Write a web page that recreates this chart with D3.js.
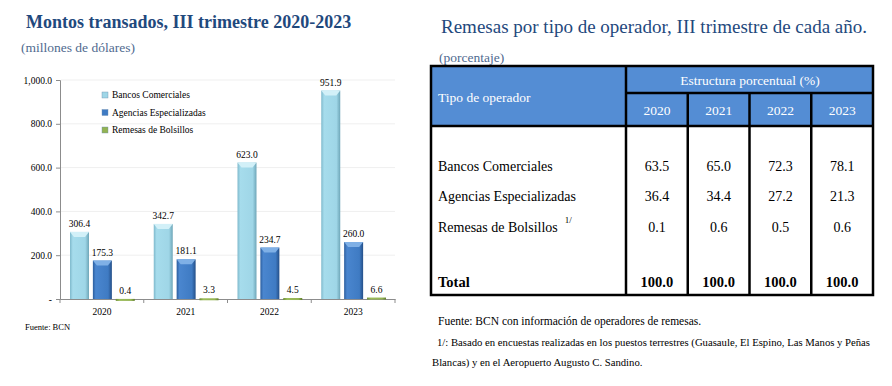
<!DOCTYPE html>
<html>
<head>
<meta charset="utf-8">
<script src="https://cdn.jsdelivr.net/npm/d3@7"></script>
<style>
  body { margin: 0; background: #fff; }
  svg text { font-family: "Liberation Serif", "DejaVu Serif", serif !important; }
</style>
</head>
<body>
<svg id="chart" width="892" height="386"></svg>
<script>
// Datos ---------------------------------------------------------------
const years = ["2020", "2021", "2022", "2023"];
const seriesNames = ["Bancos Comerciales", "Agencias Especializadas", "Remesas de Bolsillos"];
const bancos = [306.4, 342.7, 623.0, 951.9];
const agencias = [175.3, 181.1, 234.7, 260.0];
const bolsillos = [0.4, 3.3, 4.5, 6.6];
const yTicks = [0, 200, 400, 600, 800, 1000];

const tableRows = ["Bancos Comerciales", "Agencias Especializadas", "Remesas de Bolsillos"];
const pctBancos = [63.5, 65.0, 72.3, 78.1];
const pctAgencias = [36.4, 34.4, 27.2, 21.3];
const pctBolsillos = [0.1, 0.6, 0.5, 0.6];
const pctTotal = [100.0, 100.0, 100.0, 100.0];

const svg = d3.select("#chart");
const titleColor = "#1F497D";

// [A] Gráfico de barras -------------------------------------------------
svg.append("text").attr("x", 26).attr("y", 28)
  .attr("font-size", 18).attr("font-weight", "bold").attr("fill", titleColor)
  .text("Montos transados, III trimestre 2020-2023");
svg.append("text").attr("x", 21).attr("y", 52)
  .attr("font-size", 13.5).attr("fill", "#4F6A8F")
  .text("(millones de dólares)");

const x0 = d3.scaleBand().domain(years).range([60, 395]);
const x1 = d3.scaleBand().domain(seriesNames).range([10, x0.bandwidth() - 9]).paddingInner(0.17);
const y = d3.scaleLinear().domain([0, 1000]).range([299, 80]);

// gradientes
const defs = svg.append("defs");
function hGrad(id, stops) {
  const g = defs.append("linearGradient").attr("id", id).attr("x1", 0).attr("x2", 1).attr("y1", 0).attr("y2", 0);
  stops.forEach(([o, c]) => g.append("stop").attr("offset", o).attr("stop-color", c));
}
hGrad("gBanc", [[0, "#7FB9CC"], [0.15, "#A6DCEC"], [0.8, "#9FD6E7"], [1, "#6EA6B8"]]);
hGrad("gAgen", [[0, "#2C5E9E"], [0.15, "#4A86CF"], [0.8, "#3F7BC3"], [1, "#244F88"]]);
hGrad("gBols", [[0, "#6E8F36"], [0.2, "#9BBB59"], [0.8, "#93B352"], [1, "#5F7D2C"]]);
const fills = ["url(#gBanc)", "url(#gAgen)", "url(#gBols)"];
const topFills = ["#D2F0F8", "#7FB0E6", "#C5DB93"];

// grilla
svg.append("g").selectAll("line").data(yTicks.slice(1)).join("line")
  .attr("x1", 61).attr("x2", 395).attr("y1", d => y(d)).attr("y2", d => y(d))
  .attr("stroke", "#EFEFEF").attr("stroke-width", 1);

// ejes
const yAxis = svg.append("g").attr("transform", "translate(60,0)")
  .call(d3.axisLeft(y).tickValues(yTicks).tickSize(4).tickPadding(4)
    .tickFormat(d => d === 0 ? "-" : d3.format(",.1f")(d)));
yAxis.select(".domain").attr("stroke", "#8C8C8C");
yAxis.selectAll(".tick line").attr("stroke", "#8C8C8C");
yAxis.selectAll("text").attr("font-size", 9.5).attr("fill", "#000");

const xAxis = svg.append("g").attr("transform", "translate(0,299)")
  .call(d3.axisBottom(x0).tickSize(0).tickPadding(9));
xAxis.select(".domain").attr("stroke", "#8C8C8C");
xAxis.selectAll("text").attr("font-size", 9.5).attr("fill", "#000");
xAxis.selectAll(".sep").data(years.concat(["end"])).join("line").attr("class", "sep")
  .attr("x1", (d, i) => 60 + i * x0.step()).attr("x2", (d, i) => 60 + i * x0.step())
  .attr("y1", 0).attr("y2", 4).attr("stroke", "#8C8C8C");

// barras
const series = [bancos, agencias, bolsillos];
const barData = [];
years.forEach((yr, i) => series.forEach((s, k) => barData.push({ yr, k, v: s[i] })));

const bars = svg.append("g").selectAll("g").data(barData).join("g")
  .attr("transform", d => `translate(${x0(d.yr) + x1(seriesNames[d.k])},0)`);
bars.append("rect")
  .attr("x", 0).attr("width", x1.bandwidth())
  .attr("y", d => y(d.v)).attr("height", d => Math.max(y(0) - y(d.v), 2))
  .attr("fill", d => fills[d.k]);
bars.filter(d => y(0) - y(d.v) > 8).append("path")
  .attr("d", d => {
    const w = x1.bandwidth(), t = y(d.v);
    return `M0,${t}L${w},${t}L${w - 4},${t + 5}L4,${t + 5}Z`;
  })
  .attr("fill", d => topFills[d.k]);
bars.append("text")
  .attr("x", x1.bandwidth() / 2).attr("y", d => y(d.v) - 5)
  .attr("text-anchor", "middle").attr("font-size", 9.5).attr("fill", "#000")
  .text(d => d3.format(".1f")(d.v));

// leyenda
const legFill = ["#9FD6E7", "#3F7BC3", "#93B352"];
const leg = svg.append("g").selectAll("g").data(seriesNames).join("g")
  .attr("transform", (d, i) => `translate(102,${97 + i * 17.5})`);
leg.append("rect").attr("x", 0).attr("y", -5).attr("width", 6).attr("height", 6)
  .attr("fill", (d, i) => legFill[i]).attr("stroke", "#6F8FAF").attr("stroke-width", 0.4);
leg.append("text").attr("x", 10).attr("y", 1).attr("font-size", 9.5).attr("fill", "#000").text(d => d);

svg.append("text").attr("x", 25).attr("y", 330).attr("font-size", 8.5).attr("fill", "#000")
  .text("Fuente: BCN");

// [B] Tabla --------------------------------------------------------------
svg.append("text").attr("x", 441).attr("y", 33)
  .attr("font-size", 19).attr("fill", titleColor)
  .text("Remesas por tipo de operador, III trimestre de cada año.");
svg.append("text").attr("x", 439).attr("y", 62)
  .attr("font-size", 13.5).attr("fill", "#4F6A8F")
  .text("(porcentaje)");

const colX = d3.scaleBand().domain(years).range([626, 873]);
const tLeft = 431, tTop = 66, tMid = 93, tHead = 126, tBottom = 295;

svg.append("rect").attr("x", tLeft).attr("y", tTop).attr("width", 873 - tLeft).attr("height", tHead - tTop)
  .attr("fill", "#548DD4");

const thick = 2.5;
const lines = svg.append("g").attr("stroke", "#000").attr("stroke-width", thick);
lines.append("rect").attr("x", tLeft).attr("y", tTop).attr("width", 873 - tLeft).attr("height", tBottom - tTop)
  .attr("fill", "none");
lines.append("line").attr("x1", tLeft).attr("x2", 873).attr("y1", tHead).attr("y2", tHead);
lines.append("line").attr("x1", 626).attr("x2", 873).attr("y1", tMid).attr("y2", tMid);
lines.append("line").attr("x1", 626).attr("x2", 626).attr("y1", tTop).attr("y2", tBottom);
lines.selectAll(".col").data(years.slice(1)).join("line").attr("class", "col")
  .attr("x1", d => colX(d)).attr("x2", d => colX(d)).attr("y1", tMid).attr("y2", tBottom);

svg.append("text").attr("x", 438).attr("y", 102).attr("font-size", 13.5).attr("fill", "#fff")
  .text("Tipo de operador");
svg.append("text").attr("x", 750).attr("y", 85).attr("text-anchor", "middle")
  .attr("font-size", 13.5).attr("fill", "#fff").text("Estructura porcentual (%)");
svg.append("g").selectAll("text").data(years).join("text")
  .attr("x", d => colX(d) + colX.bandwidth() / 2).attr("y", 115).attr("text-anchor", "middle")
  .attr("font-size", 13.5).attr("fill", "#fff").text(d => d);

const rowY = [171, 201, 232];
const pctSeries = [pctBancos, pctAgencias, pctBolsillos];
tableRows.forEach((name, r) => {
  const t = svg.append("text").attr("x", 438).attr("y", rowY[r]).attr("font-size", 14).attr("fill", "#000").text(name);
  if (r === 2) {
    const w = t.node().getComputedTextLength();
    svg.append("text").attr("x", 438 + w + 7).attr("y", rowY[r] - 9).attr("font-size", 9).attr("fill", "#000").text("1/");
  }
  svg.append("g").selectAll("text").data(years).join("text")
    .attr("x", d => colX(d) + colX.bandwidth() / 2).attr("y", rowY[r]).attr("text-anchor", "middle")
    .attr("font-size", 14).attr("fill", "#000")
    .text((d, i) => d3.format(".1f")(pctSeries[r][i]));
});
svg.append("text").attr("x", 438).attr("y", 287).attr("font-size", 14.5).attr("font-weight", "bold")
  .attr("fill", "#000").text("Total");
svg.append("g").selectAll("text").data(years).join("text")
  .attr("x", d => colX(d) + colX.bandwidth() / 2).attr("y", 287).attr("text-anchor", "middle")
  .attr("font-size", 14.5).attr("font-weight", "bold").attr("fill", "#000")
  .text((d, i) => d3.format(".1f")(pctTotal[i]));

const notes = [
  { x: 438, y: 325, s: 11.5, t: "Fuente: BCN con información de operadores de remesas." },
  { x: 437, y: 346, s: 10.7, t: "1/: Basado en encuestas realizadas en los puestos terrestres (Guasaule, El Espino, Las Manos y Peñas" },
  { x: 432, y: 366, s: 10.7, t: "Blancas) y en el Aeropuerto Augusto C. Sandino." }
];
svg.append("g").selectAll("text").data(notes).join("text")
  .attr("x", d => d.x).attr("y", d => d.y).attr("font-size", d => d.s).attr("fill", "#000")
  .text(d => d.t);
</script>
</body>
</html>
